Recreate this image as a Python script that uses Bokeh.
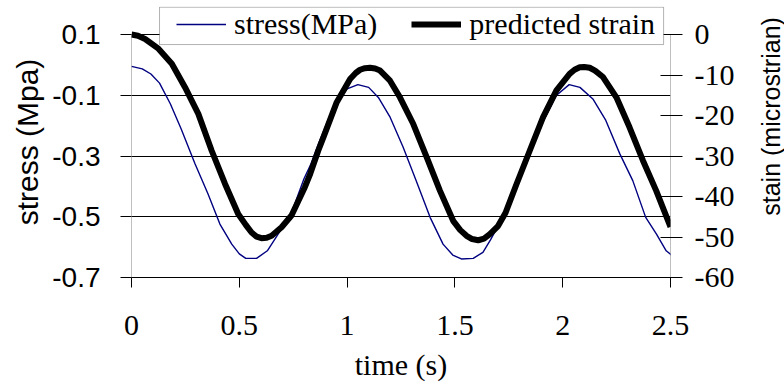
from bokeh.plotting import figure
from bokeh.models import (Range1d, LinearAxis, FixedTicker, Legend, LegendItem,
                          BoxAnnotation, Label)
from bokeh.layouts import row
from bokeh.embed import file_html
from bokeh.resources import INLINE
import math

# ---------------- data ----------------
stress_t = [0.0, 0.05, 0.09, 0.13, 0.18, 0.23, 0.295, 0.355, 0.41, 0.465, 0.50, 0.53,
            0.58, 0.63, 0.68, 0.74, 0.80, 0.83, 0.87, 0.91, 0.95, 1.0, 1.05, 1.10,
            1.145, 1.20, 1.26, 1.32, 1.385, 1.445, 1.49, 1.53, 1.585, 1.63, 1.665,
            1.74, 1.815, 1.895, 1.97, 2.03, 2.08, 2.14, 2.20, 2.265, 2.325, 2.385,
            2.435, 2.48, 2.52]
stress_v = [-0.005, -0.013, -0.030, -0.060, -0.128, -0.210, -0.326, -0.425, -0.524,
            -0.590, -0.622, -0.637, -0.637, -0.612, -0.557, -0.491, -0.375, -0.330,
            -0.255, -0.185, -0.128, -0.079, -0.065, -0.074, -0.107, -0.173, -0.271,
            -0.381, -0.502, -0.590, -0.626, -0.639, -0.637, -0.617, -0.576, -0.480,
            -0.348, -0.206, -0.101, -0.065, -0.074, -0.112, -0.183, -0.293, -0.381,
            -0.502, -0.557, -0.612, -0.635]

strain_t = [0.0, 0.03, 0.063, 0.125, 0.187, 0.248, 0.31, 0.372, 0.434, 0.495, 0.53,
            0.557, 0.58, 0.603, 0.627, 0.65, 0.696, 0.742, 0.804, 0.829, 0.866, 0.89,
            0.952, 1.014, 1.04, 1.06, 1.083, 1.106, 1.13, 1.153, 1.199, 1.245, 1.307,
            1.369, 1.431, 1.492, 1.525, 1.554, 1.58, 1.608, 1.635, 1.662, 1.70,
            1.735, 1.786, 1.847, 1.909, 1.971, 2.032, 2.055, 2.079, 2.10, 2.125,
            2.15, 2.187, 2.249, 2.31, 2.372, 2.434, 2.495, 2.5]
strain_v = [0.0, -0.3, -1.1, -3.5, -7.2, -13.0, -19.6, -28.7, -36.9, -44.3, -47.0,
            -48.9, -49.9, -50.3, -50.2, -49.7, -47.6, -44.7, -37.7, -34.4, -28.7, -25.4,
            -16.7, -11.0, -9.5, -8.7, -8.3, -8.2, -8.4, -8.9, -11.4, -15.5, -22.1,
            -30.3, -38.6, -46.0, -48.3, -49.7, -50.5, -50.8, -50.4, -49.3, -47.3,
            -44.0, -36.9, -28.7, -20.4, -13.8, -9.7, -8.7, -8.1, -8.0, -8.2,
            -8.9, -10.5, -15.5, -22.9, -31.1, -38.6, -46.8, -47.5]

time_ticks = [0, 0.5, 1, 1.5, 2, 2.5]
time_labels = ["0", "0.5", "1", "1.5", "2", "2.5"]
stress_ticks = [0.1, -0.1, -0.3, -0.5, -0.7]
stress_labels = ["0.1", "-0.1", "-0.3", "-0.5", "-0.7"]
strain_ticks = [0, -10, -20, -30, -40, -50, -60]
strain_labels = ["0", "-10", "-20", "-30", "-40", "-50", "-60"]

series_names = ["stress(MPa)", "predicted strain"]
x_title = "time (s)"
y_left_title = "stress (Mpa)"
y_right_title = "stain (microstrian)"

SANS = "Liberation Sans"
SERIF = "Liberation Serif"

# the frame reaches up to the legend's top edge; the axes stop at their top ticks
p = figure(width=744, height=387, output_backend="svg", toolbar_location=None,
           x_range=Range1d(0, 2.5), y_range=Range1d(-0.7, 0.1923),
           min_border_left=131, min_border_right=74, min_border_top=6,
           min_border_bottom=110)
p.extra_y_ranges = {"strain": Range1d(-60, 6.92)}
p.outline_line_color = None
p.background_fill_color = "white"
p.border_fill_color = "white"

# grid
p.xgrid.visible = False
p.ygrid.ticker = FixedTicker(ticks=stress_ticks)
p.ygrid.grid_line_color = "black"
p.ygrid.grid_line_width = 1

# x axis
xa = p.xaxis[0]
xa.ticker = FixedTicker(ticks=time_ticks)
xa.major_label_overrides = {t: l for t, l in zip(time_ticks, time_labels)}
xa.major_label_text_font = SERIF
xa.major_label_text_font_size = "30px"
xa.major_label_text_color = "black"
xa.major_tick_in = 0
xa.major_tick_out = 10
xa.minor_tick_line_color = None
xa.axis_line_color = "black"
xa.major_tick_line_color = "black"
xa.major_label_standoff = 28
xa.axis_label = x_title
xa.axis_label_text_font = SERIF
xa.axis_label_text_font_size = "30px"
xa.axis_label_text_font_style = "normal"
xa.axis_label_text_color = "black"
xa.axis_label_standoff = 10

# left axis
ya = p.yaxis[0]
ya.ticker = FixedTicker(ticks=stress_ticks)
ya.major_label_overrides = {t: l for t, l in zip(stress_ticks, stress_labels)}
ya.major_label_text_font = SANS
ya.major_label_text_font_size = "28px"
ya.major_label_text_color = "black"
ya.major_tick_in = 0
ya.major_tick_out = 11
ya.minor_tick_line_color = None
ya.axis_line_color = None
ya.major_tick_line_color = "black"
ya.major_label_standoff = 20
ya.axis_label = y_left_title
ya.axis_label_text_font = SANS
ya.axis_label_text_font_size = "30px"
ya.axis_label_text_font_style = "normal"
ya.axis_label_text_color = "black"
ya.axis_label_standoff = 5

# right axis (its title is drawn in the narrow strip to the right)
ra = LinearAxis(y_range_name="strain", ticker=FixedTicker(ticks=strain_ticks))
ra.major_label_overrides = {t: l for t, l in zip(strain_ticks, strain_labels)}
ra.major_label_text_font = SERIF
ra.major_label_text_font_size = "30px"
ra.major_label_text_color = "black"
ra.major_tick_in = 10
ra.major_tick_out = 12
ra.minor_tick_line_color = None
ra.axis_line_color = None
ra.major_tick_line_color = "black"
ra.major_label_standoff = 12
p.add_layout(ra, "right")

# grey axis lines spanning only the tick range
p.segment(x0=[time_ticks[0]], y0=[stress_ticks[-1]], x1=[time_ticks[0]],
          y1=[stress_ticks[0]], line_color="#808080", line_width=1)
p.segment(x0=[time_ticks[-1]], y0=[strain_ticks[-1]], x1=[time_ticks[-1]],
          y1=[strain_ticks[0]], y_range_name="strain", line_color="#808080",
          line_width=1)

# series
r_stress = p.line(stress_t, stress_v, line_color="#000080", line_width=1.4)
r_strain = p.line(strain_t, strain_v, y_range_name="strain", line_color="black",
                  line_width=6, line_join="round")

# legend frame and legend
p.add_layout(BoxAnnotation(left=0.13, right=2.468, bottom=0.067, top=0.19,
                           fill_color="white", fill_alpha=1, line_color="black",
                           line_width=1))
legend = Legend(items=[LegendItem(label=series_names[0], renderers=[r_stress]),
                       LegendItem(label=series_names[1], renderers=[r_strain])],
                orientation="horizontal", location=(45, 236), padding=0,
                spacing=34, glyph_width=50, label_standoff=8,
                border_line_color=None, background_fill_alpha=0,
                label_text_font=SERIF, label_text_font_size="30px",
                label_text_color="black")
p.add_layout(legend)

# narrow strip holding the right-hand axis title, reading bottom to top
side = figure(width=40, height=387, output_backend="svg", toolbar_location=None,
              x_range=Range1d(0, 40), y_range=Range1d(0, 387),
              x_axis_type=None, y_axis_type=None,
              min_border_left=0, min_border_right=0, min_border_top=0,
              min_border_bottom=0)
side.outline_line_color = None
side.background_fill_color = "white"
side.border_fill_color = "white"
side.xgrid.visible = False
side.ygrid.visible = False
side.add_layout(Label(x=26, y=230, text=y_right_title, angle=math.pi / 2,
                      text_align="center", text_baseline="middle", text_font=SANS,
                      text_font_size="25px", text_color="black"))

layout = row(p, side, spacing=0)
open("out.html", "w").write(file_html(layout, INLINE))
